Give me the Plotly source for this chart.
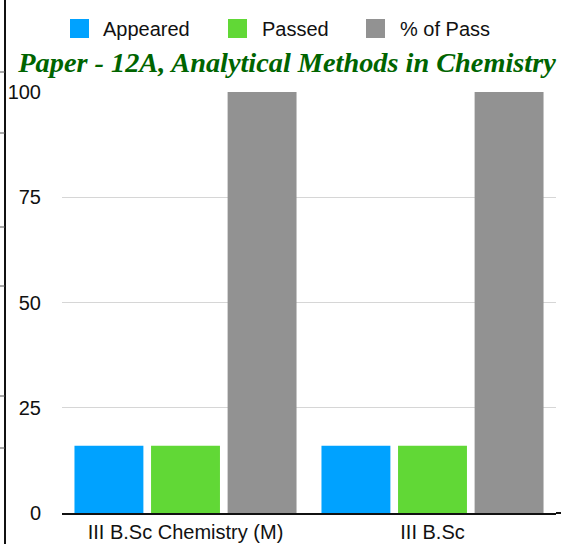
import plotly.graph_objects as go

categories = ["III B.Sc Chemistry (M)", "III B.Sc"]
appeared = [16, 16]
passed = [16, 16]
pct_pass = [100, 100]
series_names = ["Appeared", "Passed", "% of Pass"]
colors = ["#00A2FF", "#61D836", "#929292"]
y_ticks = [0, 25, 50, 75, 100]
title_text = "Paper - 12A, Analytical Methods in Chemistry"

W, H = 561, 544
ML, MR, MT, MB = 62, 5, 92, 31
PW = W - ML - MR
PH = H - MT - MB


def px_x(px):
    return (px - ML) / PW


def px_y(py):
    return (H - MB - py) / PH


fig = go.Figure()
for name, vals, col in zip(series_names, [appeared, passed, pct_pass], colors):
    fig.add_trace(go.Bar(x=categories, y=vals, name=name, marker=dict(color=col, line=dict(width=0)),
                         showlegend=False, hoverinfo="skip"))

font_sans = "Liberation Sans, Arial, Helvetica, sans-serif"

shapes = []
annotations = []
# custom legend (squares + labels)
leg_sq = [70, 228, 366]
leg_tx = [101, 260, 398]
for name, col, sx, tx in zip(series_names, colors, leg_sq, leg_tx):
    shapes.append(dict(type="rect", xref="paper", yref="paper",
                       x0=px_x(sx), x1=px_x(sx + 19), y0=px_y(38), y1=px_y(19),
                       fillcolor=col, line=dict(width=0), layer="above"))
    annotations.append(dict(text=name, xref="paper", yref="paper", x=px_x(tx), y=px_y(29),
                            xanchor="left", yanchor="middle", showarrow=False,
                            font=dict(family=font_sans, size=20, color="#111111")))

# cropped page border on the left
shapes.append(dict(type="line", xref="paper", yref="paper", x0=px_x(5), x1=px_x(5),
                   y0=px_y(0), y1=px_y(H), line=dict(color="#111111", width=2)))
for ty in [72, 133, 227, 286, 396, 448]:
    shapes.append(dict(type="line", xref="paper", yref="paper", x0=px_x(0), x1=px_x(5),
                       y0=px_y(ty), y1=px_y(ty), line=dict(color="#555555", width=1)))
# axis line extension
shapes.append(dict(type="line", xref="paper", yref="paper", x0=1, x1=px_x(W), y0=0, y1=0,
                   line=dict(color="#111111", width=2)))

fig.update_layout(
    width=W, height=H,
    margin=dict(l=ML, r=MR, t=MT, b=MB, autoexpand=False),
    paper_bgcolor="white", plot_bgcolor="white",
    barmode="group", bargap=0.07, bargroupgap=0.1,
    title=dict(text="<b><i>" + title_text + "</i></b>", x=287 / W, xanchor="center",
               y=1 - 62 / H, yanchor="middle",
               font=dict(family="Liberation Serif, Times New Roman, serif", size=28.3, color="#006400")),
    font=dict(family=font_sans, size=20, color="#111111"),
    shapes=shapes, annotations=annotations,
    showlegend=False,
    xaxis=dict(showline=True, linecolor="#111111", linewidth=2, ticks="", showgrid=False,
               tickfont=dict(size=20, color="#111111"), fixedrange=True),
    yaxis=dict(range=[0, 100], tickvals=y_ticks, ticks="", showgrid=True, gridcolor="#d6d6d6",
               gridwidth=1, zeroline=False, showline=False, ticklabelstandoff=20,
               tickfont=dict(size=20, color="#111111"), fixedrange=True),
)

fig.write_html("out.html", config={"displayModeBar": False, "staticPlot": True},
               post_script="document.body.style.margin='0';document.body.style.overflow='hidden';")
